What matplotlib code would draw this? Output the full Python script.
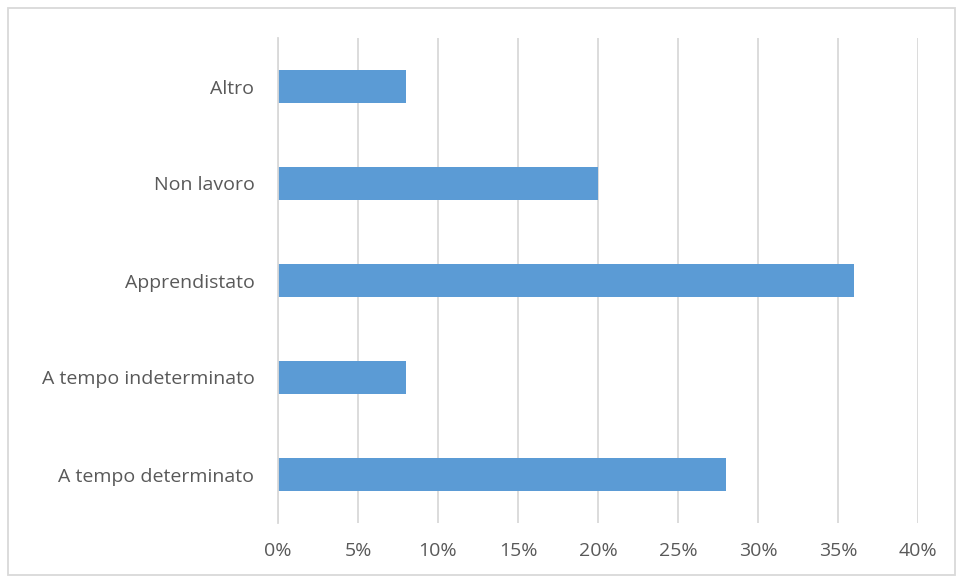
import matplotlib.pyplot as plt
from matplotlib.patches import Rectangle
from matplotlib.ticker import PercentFormatter

categories = ['A tempo determinato', 'A tempo indeterminato', 'Apprendistato', 'Non lavoro', 'Altro']
values = [28, 8, 36, 20, 8]
xticks = [0, 5, 10, 15, 20, 25, 30, 35, 40]

plt.rcParams['font.family'] = ['Open Sans', 'DejaVu Sans']
text_color = '#595959'
grid_color = '#D9D9D9'

fig = plt.figure(figsize=(9.59, 5.78), dpi=100)
# plot area in pixels: x 278..918, y 38..523
ax = fig.add_axes([278 / 959, (578 - 523) / 578, 640 / 959, 485 / 578])

ax.barh(range(len(categories)), values, height=0.34, color='#5B9BD5', zorder=3)

ax.set_xlim(0, 40)
ax.set_ylim(-0.5, len(categories) - 0.5)
ax.set_xticks(xticks)
ax.xaxis.set_major_formatter(PercentFormatter(decimals=0))
ax.set_yticks(range(len(categories)))
ax.set_yticklabels(categories)

ax.grid(axis='x', color=grid_color, linewidth=1.3, zorder=0)
for side in ['top', 'right', 'bottom']:
    ax.spines[side].set_visible(False)
ax.spines['left'].set_color(grid_color)
ax.spines['left'].set_linewidth(1.3)
ax.spines['left'].set_zorder(4)

ax.tick_params(axis='both', length=0, labelsize=14, labelcolor=text_color)
ax.tick_params(axis='y', pad=17)
ax.tick_params(axis='x', pad=14)

# chart frame
fig.patches.append(Rectangle((8 / 959, 3 / 578), 947 / 959, 567 / 578,
                             transform=fig.transFigure, fill=False,
                             edgecolor=grid_color, linewidth=1.3))

fig.savefig('out.png', dpi=100)
